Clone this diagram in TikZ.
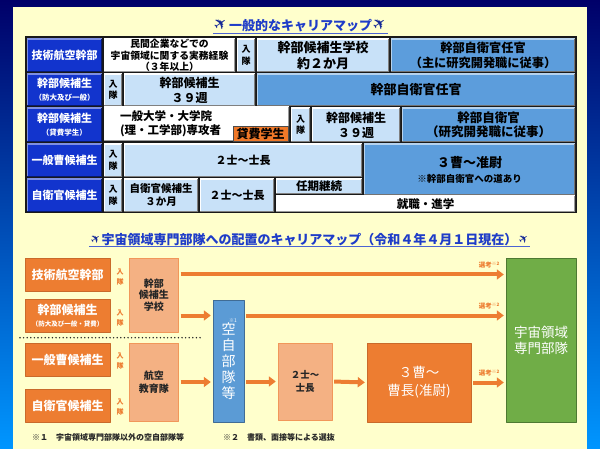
\documentclass[tikz,border=0pt]{standalone}
\usepackage{fontspec}
\usepackage{graphicx}
\setmainfont{Noto Sans CJK JP}
\newfontfamily\dejavu{DejaVu Sans}
\usetikzlibrary{arrows.meta}
\definecolor{navy}{RGB}{0,0,105}
\definecolor{midsky}{RGB}{0,50,200}
\definecolor{deepsky}{RGB}{0,150,255}
\definecolor{cream}{RGB}{255,255,204}
\definecolor{hdblue}{RGB}{18,52,205}
\definecolor{lightblue}{RGB}{200,225,248}
\definecolor{midblue}{RGB}{92,157,220}
\definecolor{loanorange}{RGB}{240,120,40}
\definecolor{titleblue}{RGB}{30,60,200}
\definecolor{jetblue}{RGB}{20,40,150}
\definecolor{orangebox}{RGB}{237,125,49}
\definecolor{peach}{RGB}{244,177,131}
\definecolor{unitblue}{RGB}{91,155,213}
\definecolor{unitgreen}{RGB}{112,173,71}
\newcommand\jet[1]{{\dejavu\fontsize{#1}{#1}\selectfont\color{jetblue}\makebox[1em]{\raisebox{-.1em}{\rotatebox{35}{✈}}}}}

\begin{document}
\begin{tikzpicture}[x=1pt,y=-1pt,line join=round,font=\bfseries]
	\tikzset{
		wh/.style 2 args={minimum width=#1,minimum height=#2},
		bevel/.style 2 args={path picture={
				\draw[#1,line width=2.4pt] (path picture bounding box.south west)--(path picture bounding box.north west)--(path picture bounding box.north east);
				\draw[#2,line width=2.4pt] (path picture bounding box.north east)--(path picture bounding box.south east)--(path picture bounding box.south west);}},
		cell/.style={inner sep=0pt,outer sep=0pt,align=center,font=\bfseries\fontsize{12}{15}\selectfont},
		hd/.style={cell,fill=hdblue,text=white,bevel={hdblue!55!white}{hdblue!50!black},font=\bfseries\fontsize{11}{13}\selectfont},
		lb/.style={cell,fill=lightblue,bevel={white}{black!50}},
		mb/.style={cell,fill=midblue,bevel={midblue!45!white}{black!55}},
		wt/.style={cell,fill=white,bevel={white}{black!40}},
		ent/.style={lb,font=\bfseries\fontsize{9}{11.5}\selectfont},
		ttl/.style={inner sep=0pt,text=titleblue,font=\bfseries\fontsize{13}{15}\selectfont},
		uline/.style={draw=titleblue!80!white,line width=.9pt},
		obox/.style={draw=orangebox!85!black,fill=orangebox,text=white,align=center,inner sep=0pt,font=\bfseries\fontsize{12}{14}\selectfont},
		lobox/.style={draw=orangebox!80,fill=peach,text=black!85,align=center,inner sep=0pt,font=\bfseries\fontsize{10}{11.7}\selectfont},
		entry/.style={inner sep=0pt,align=center,text=orangebox,font=\bfseries\fontsize{7}{9.5}\selectfont},
		arr/.style={draw=orangebox,line width=4pt,-{Triangle[length=7pt,width=10pt]},shorten <=2pt,shorten >=2pt},
		sel/.style={pos=1,anchor=south east,inner sep=0pt,xshift=-4pt,yshift=4pt,text=orangebox,font=\bfseries\fontsize{6.5}{7}\selectfont},
		fn/.style={anchor=west,inner sep=0pt,text=black!85,font=\bfseries\fontsize{8}{9}\selectfont}
	}
	% frame and panel
	\shade[top color=navy,middle color=midsky,bottom color=deepsky] (0,0) rectangle (600,449);
	\fill[cream] (13,7) rectangle (587,449);
	\useasboundingbox (0,0) rectangle (600,449);
	% general career map
	\node[ttl] (t1) at (300.5,24) {\jet{16}一般的なキャリアマップ\jet{16}};
	\draw[uline] ([yshift=-1pt]t1.south west) -- ([yshift=-1pt]t1.south east);
	\fill[black!90] (24.5,36) rectangle (577,213.5);
	\node[hd,wh={75}{33}] (h1) at (64.5,55.5) {技術航空幹部};
	\node[hd,wh={75}{32}] (h2) at (64.5,90) {幹部候補生\\{\fontsize{7.5}{9}\selectfont（防大及び一般）}};
	\node[hd,wh={75}{34}] (h3) at (64.5,125) {幹部候補生\\{\fontsize{7.5}{9}\selectfont（貸費学生）}};
	\node[hd,wh={75}{33}] (h4) at (64.5,160.5) {一般曹候補生};
	\node[hd,wh={75}{33}] (h5) at (64.5,195.5) {自衛官候補生};
	% row 1
	\node[wt,wh={131}{33},font=\bfseries\fontsize{9.8}{11.3}\selectfont] (r1exp) at (169.5,55.5) {民間企業などでの\\宇宙領域に関する実務経験\\（３年以上）};
	\node[ent,wh={18}{33}] (r1in) at (246,55.5) {入\\隊};
	\node[lb,wh={132}{33},font=\bfseries\fontsize{13}{16}\selectfont] (r1sch) at (323,55.5) {幹部候補生学校\\約２か月};
	\node[mb,wh={184}{33},font=\bfseries\fontsize{12.2}{14.5}\selectfont] (r1off) at (483,55.5) {幹部自衛官任官\\（主に研究開発職に従事）};
	% row 2
	\node[ent,wh={18}{32}] (r2in) at (113,90) {入\\隊};
	\node[lb,wh={131}{32}] (r2sch) at (189.5,90) {幹部候補生\\３９週};
	\node[mb,wh={318}{32},font=\bfseries\fontsize{13}{15}\selectfont] (r2off) at (416,90) {幹部自衛官任官};
	% row 3
	\node[wt,wh={185}{34},inner xsep=16pt,text width=153pt,align=left,font=\bfseries\fontsize{11.5}{14.3}\selectfont] (r3uni) at (196.5,124) {一般大学・大学院\\(理・工学部)専攻者};
	\node[cell,fill=loanorange,draw=black!70,line width=.8pt,wh={55}{15}] (r3loan) at (260.5,133.5) {貸費学生};
	\node[ent,wh={19}{34}] (r3in) at (300.5,125) {入\\隊};
	\node[lb,wh={88}{34}] (r3sch) at (356,125) {幹部候補生\\３９週};
	\node[mb,wh={173}{34},font=\bfseries\fontsize{12.5}{14.5}\selectfont] (r3off) at (488.5,125) {幹部自衛官\\（研究開発職に従事）};
	% row 4
	\node[ent,wh={18}{33}] (r4in) at (113,160.5) {入\\隊};
	\node[lb,wh={238}{33},font=\bfseries\fontsize{11}{13}\selectfont] (r4pvt) at (243,160.5) {２士〜士長};
	\node[mb,wh={211}{51}] (r4nco) at (469.5,169.5) {{\fontsize{13}{15}\selectfont ３曹〜准尉}\\{\fontsize{9.5}{11}\selectfont ※幹部自衛官への道あり}};
	% row 5
	\node[ent,wh={18}{33}] (r5in) at (113,195.5) {入\\隊};
	\node[lb,wh={74}{33},font=\bfseries\fontsize{10.5}{13}\selectfont] (r5cand) at (161,195.5) {自衛官候補生\\３か月};
	\node[lb,wh={74}{33},font=\bfseries\fontsize{11}{13}\selectfont] (r5pvt) at (237,195.5) {２士〜士長};
	\node[lb,wh={86}{15},font=\bfseries\fontsize{11.5}{13}\selectfont] (r5cont) at (319,186.5) {任期継続};
	\node[wt,wh={299}{16},font=\bfseries\fontsize{11.5}{13}\selectfont] (r5job) at (425.5,204) {就職・進学};
	% space domain career map
	\node[ttl] (t2) at (309.5,239) {\jet{12}宇宙領域専門部隊への配置のキャリアマップ（令和４年４月１日現在）\jet{12}};
	\draw[uline] ([yshift=-1pt]t2.south west) -- ([yshift=-1pt]t2.south east);
	\node[obox,wh={85}{33}] (tech) at (67.5,274.5) {技術航空幹部};
	\node[obox,wh={85}{33}] (cand) at (67.5,315.5) {幹部候補生\\[-2pt]{\fontsize{6.5}{7}\selectfont（防大及び一般・貸費）}};
	\node[obox,wh={85}{33}] (sgt) at (67.5,359.5) {一般曹候補生};
	\node[obox,wh={85}{33}] (pvt) at (67.5,405.5) {自衛官候補生};
	\foreach \n/\y in {e1/277,e2/318,e3/361,e4/407}
		\node[entry] (\n) at (120,\y) {入\\隊};
	\draw[line width=1.6pt,line cap=round,dash pattern=on 0pt off 3.6pt,black!85] (20,337.7) -- (201,337.7);
	\node[lobox,wh={49.5}{74}] (school) at (153.75,295) {幹部\\候補生\\学校};
	\node[lobox,wh={49.5}{78},font=\bfseries\fontsize{10}{13.3}\selectfont] (edu) at (153.75,382) {航空\\教育隊};
	\node[draw=unitblue!70!black,fill=unitblue,text=white,align=center,inner sep=0pt,wh={31}{122},font=\fontsize{14}{16}\selectfont] (kuji) at (228.5,361) {空\\自\\部\\隊\\等};
	\node[inner sep=0pt,text=white,font=\fontsize{5}{5}\selectfont] (kujin) at (233,321) {※1};
	\node[lobox,wh={54}{77},font=\bfseries\fontsize{9.5}{12.3}\selectfont] (nishi) at (305,381.5) {２士〜\\士長};
	\node[obox,wh={104}{79},font=\fontsize{13.5}{18.3}\selectfont] (sanso) at (419,382.5) {３曹〜\\曹長(准尉)};
	\node[draw=unitgreen!70!black,fill=unitgreen,text=white,align=center,inner sep=0pt,wh={70}{164},font=\fontsize{13.5}{16}\selectfont] (space) at (541,340) {宇宙領域\\専門部隊};
	\draw[arr] (school.east |- tech.east) -- (space.west |- tech.east) node[sel] {選考\textsuperscript{※2}};
	\draw[arr] (school.east |- cand.east) -- (kuji.west |- cand.east);
	\draw[arr] (kuji.east |- cand.east) -- (space.west |- cand.east) node[sel] {選考\textsuperscript{※2}};
	\draw[arr] (edu.east) -- (kuji.west |- edu.east);
	\draw[arr] (kuji.east |- nishi.west) -- (nishi.west);
	\draw[arr] (nishi.east) -- (sanso.west);
	\draw[arr] (sanso.east) -- (space.west |- sanso.east) node[sel] {選考\textsuperscript{※2}};
	\node[fn] (fn1) at (32,437.7) {※１　宇宙領域専門部隊以外の空自部隊等};
	\node[fn] (fn2) at (223,437.7) {※２　書類、面接等による選抜};
\end{tikzpicture}
\end{document}
